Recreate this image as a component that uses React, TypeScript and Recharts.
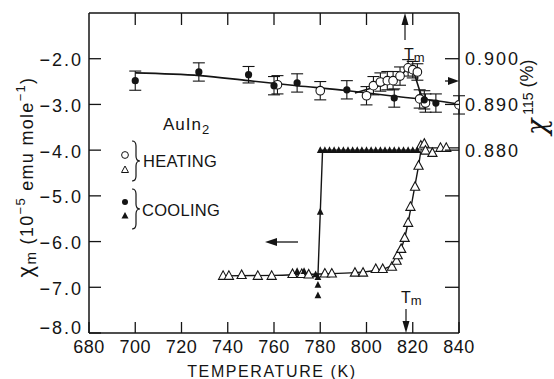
import React from 'react';
import {
  ComposedChart, XAxis, YAxis, Scatter, Line, ErrorBar,
} from 'recharts';

// temperature axis
const T_TICKS = [680, 700, 720, 740, 760, 780, 800, 820, 840];
const T_TOP_TICKS = [700, 720, 740, 760, 780, 800, 820];
// left axis: chi_m (10^-5 emu/mole)
const CHI_TICKS = [-8, -7, -6, -5, -4, -3, -2];
// right axis: Knight shift chi^115 (%)
const K_TICKS = [0.85, 0.86, 0.87, 0.88, 0.89, 0.9];
const K_LABELED = [0.88, 0.89, 0.9];

// chi^115, cooling (filled circles)
const coolCircT = [700, 727.5, 749, 760, 770, 791.5, 812, 825, 830];
const coolCircK = [0.8952, 0.8971, 0.8965, 0.8941, 0.8947, 0.8932, 0.8914, 0.891, 0.8903];
const coolCircErr = [0.0021, 0.002, 0.0018, 0.002, 0.002, 0.002, 0.002, 0.002, 0.002];

// chi^115, heating (open circles)
const heatCircT = [761.5, 780, 800, 803, 806, 809, 811.5, 814.5, 818, 820, 822, 823, 825.5, 840];
const heatCircK = [0.8943, 0.893, 0.8919, 0.8941, 0.8949, 0.8952, 0.8952, 0.8962, 0.898, 0.8976, 0.8971, 0.8912, 0.8903, 0.8899];
const heatCircErr = [0.002, 0.002, 0.002, 0.002, 0.002, 0.002, 0.002, 0.002, 0.0018, 0.0018, 0.0018, 0.002, 0.002, 0.002];

// drawn curves through the chi^115 data
const baseCurveT = [700, 728, 749, 770, 792, 812, 830, 840];
const baseCurveK = [0.8969, 0.8963, 0.8952, 0.8941, 0.893, 0.8918, 0.8908, 0.8901];
const bumpCurveT = [795, 803, 810, 815, 818, 819.5, 825, 830];
const bumpCurveK = [0.8925, 0.8937, 0.8948, 0.8962, 0.898, 0.8977, 0.8911, 0.8908];

// chi_m, heating (open triangles)
const heatTriT = [738, 740.5, 746, 753, 759, 768, 772, 775, 782, 785, 795, 798.5, 804, 807, 811, 813, 813.5, 815, 816.5, 818, 819, 821, 822.5, 823.5, 825, 825.5, 828.5, 832, 834.5];
const heatTriM = [-6.75, -6.75, -6.73, -6.75, -6.75, -6.71, -6.71, -6.72, -6.7, -6.7, -6.68, -6.68, -6.6, -6.6, -6.55, -6.42, -6.3, -6.16, -5.92, -5.59, -5.24, -4.8, -4.34, -3.9, -3.86, -4.01, -4.06, -3.95, -3.95];
const heatCurveT = [738, 760, 780, 795, 805, 810, 812.5, 814.5, 816.5, 818.5, 820.5, 822.5, 824, 830, 840];
const heatCurveM = [-6.75, -6.74, -6.71, -6.68, -6.62, -6.55, -6.45, -6.22, -5.92, -5.45, -4.9, -4.35, -3.95, -3.95, -3.95];

// chi_m, cooling (filled triangles)
const coolTriT = [770, 773, 778, 779, 779, 779, 780, 780, 782, 784, 786, 788, 790, 792, 794, 796, 798, 800, 802, 804, 806, 808, 810, 812, 814, 816, 818, 820, 822];
const coolTriM = [-6.65, -6.65, -6.72, -6.78, -6.95, -7.18, -5.35, -4, -4, -4, -4, -4, -4, -4, -4, -4, -4, -4, -4, -4, -4, -4, -4, -4, -4, -4, -4, -4, -4];
const coolCurveT = [779, 781, 822];
const coolCurveM = [-6.75, -4, -4];

const zip = (xs: number[], ys: number[], es?: number[]) =>
  xs.map((x, i) => ({ x, y: ys[i], err: es ? es[i] : 0 }));

const INK = '#141414';
const FONT = '"Liberation Sans", Arial, sans-serif';

const fmtChi = (v: number) => (v < 0 ? '\u2212' : '') + Math.abs(v).toFixed(1);

// custom ticks: labels outside, tick marks pointing into the plot
const BottomTick = ({ x, y, payload }: any) => (
  <g>
    <line x1={x} x2={x} y1={y - 7} y2={y - 18} stroke={INK} strokeWidth={1.3} />
    <text x={x} y={y} dy="0.71em" textAnchor="middle" fontSize={18} letterSpacing={0.5} fontFamily={FONT} fill={INK}>
      {payload.value}
    </text>
  </g>
);

const TopTick = ({ x, y }: any) => (
  <line x1={x} x2={x} y1={y} y2={y + 12} stroke={INK} strokeWidth={1.3} />
);

const LeftTick = ({ x, y, payload }: any) => (
  <g>
    <line x1={x + 6} x2={x + 18} y1={y} y2={y} stroke={INK} strokeWidth={1.3} />
    <text x={x} y={payload.value === -8 ? y - 5 : y + 1} dy="0.36em" textAnchor="end" fontSize={18}
      letterSpacing={2} fontFamily={FONT} fill={INK}>
      {fmtChi(payload.value)}
    </text>
  </g>
);

const RightTick = ({ x, y, payload }: any) => {
  const labeled = K_LABELED.some((v) => Math.abs(v - payload.value) < 1e-6);
  return (
    <g>
      <line x1={x - 6} x2={x - 20} y1={y} y2={y} stroke={INK} strokeWidth={1.3} />
      {labeled && (
        <text x={x} y={y} dy="0.36em" textAnchor="start" fontSize={18} letterSpacing={2} fontFamily={FONT} fill={INK}>
          {payload.value.toFixed(3)}
        </text>
      )}
    </g>
  );
};

const OpenCircle = ({ cx, cy }: any) => (
  <circle cx={cx} cy={cy} r={4.3} fill="#fff" stroke={INK} strokeWidth={1.1} />
);
const FilledCircle = ({ cx, cy }: any) => <circle cx={cx} cy={cy} r={3.6} fill={INK} />;
const OpenTriangle = ({ cx, cy }: any) => (
  <path d={`M${cx},${cy - 5} L${cx - 4.6},${cy + 3.5} L${cx + 4.6},${cy + 3.5} Z`} fill="#fff" stroke={INK} strokeWidth={1.1} />
);
const FilledTriangle = ({ cx, cy }: any) => (
  <path d={`M${cx},${cy - 4} L${cx - 3.4},${cy + 2.8} L${cx + 3.4},${cy + 2.8} Z`} fill={INK} />
);

const brace = (x: number, y0: number, y1: number) => {
  const m = (y0 + y1) / 2;
  return `M${x},${y0} Q${x + 4},${y0} ${x + 4},${y0 + 5} L${x + 4},${m - 5} Q${x + 4},${m} ${x + 8},${m} Q${x + 4},${m} ${x + 4},${m + 5} L${x + 4},${y1 - 5} Q${x + 4},${y1} ${x},${y1}`;
};

function Annotations() {
  const t = { fontFamily: FONT, fill: INK };
  return (
    <svg width={554} height={379} style={{ position: 'absolute', left: 0, top: 0, pointerEvents: 'none' }}>
      {/* sample name */}
      <text x={163} y={130} fontSize={17} letterSpacing={1} {...t}>
        AuIn<tspan fontSize={13} dy={4}>2</tspan>
      </text>
      {/* legend */}
      <circle cx={125} cy={155} r={3.4} fill="#fff" stroke={INK} strokeWidth={1} />
      <path d="M125,166 L121.5,172.5 L128.5,172.5 Z" fill="#fff" stroke={INK} strokeWidth={1} />
      <path d={brace(132, 141, 181)} fill="none" stroke={INK} strokeWidth={1.2} />
      <text x={143} y={167} fontSize={16.5} letterSpacing={0.3} {...t}>HEATING</text>
      <circle cx={125} cy={202} r={3} fill={INK} />
      <path d="M125,212 L121.5,218.5 L128.5,218.5 Z" fill={INK} />
      <path d={brace(132, 189, 229)} fill="none" stroke={INK} strokeWidth={1.2} />
      <text x={142} y={216} fontSize={16.5} letterSpacing={0.3} {...t}>COOLING</text>
      {/* axis arrows */}
      <line x1={274} x2={298} y1={242} y2={242} stroke={INK} strokeWidth={1.3} />
      <path d="M265,242 L277,238 L277,246 Z" fill={INK} />
      <line x1={445} x2={451} y1={81} y2={81} stroke={INK} strokeWidth={1.3} />
      <path d="M459,81 L448,77 L448,85 Z" fill={INK} />
      {/* Tm markers */}
      <line x1={405} x2={405} y1={40} y2={22} stroke={INK} strokeWidth={1.2} />
      <path d="M405,13 L401.5,25 L408.5,25 Z" fill={INK} />
      <text x={404} y={60} fontSize={16} {...t}>
        T<tspan fontSize={13} dy={2} fill={INK}>m</tspan>
      </text>
      <text x={401} y={303} fontSize={16} {...t}>
        T<tspan fontSize={13} dy={2} fill={INK}>m</tspan>
      </text>
      <line x1={406} x2={406} y1={309} y2={322} stroke={INK} strokeWidth={1.2} />
      <path d="M406,333 L402.5,321 L409.5,321 Z" fill={INK} />
      {/* axis titles */}
      <text x={272} y={377} fontSize={16} letterSpacing={1.6} textAnchor="middle" {...t}>
        TEMPERATURE (K)
      </text>
      <text transform="translate(33,177) rotate(-90)" textAnchor="middle" fontSize={18} letterSpacing={1.3} {...t}>
        <tspan fontSize={22}>χ</tspan>
        <tspan fontSize={15} dy={3}>m</tspan>
        <tspan dy={-3}>  (10</tspan>
        <tspan fontSize={13} dy={-8}>−5</tspan>
        <tspan dy={8}> emu mole</tspan>
        <tspan fontSize={13} dy={-8}>−1</tspan>
        <tspan dy={8}>)</tspan>
      </text>
      <text transform="translate(546,135) rotate(-90)" textAnchor="start" fontSize={16} {...t}>
        <tspan fontSize={27} fontStyle="italic" fontFamily='"DejaVu Serif", serif'>χ</tspan>
        <tspan fontSize={14} dy={-13}> 115</tspan>
        <tspan fontSize={18}>   (%)</tspan>
      </text>
    </svg>
  );
}

export default function App() {
  const axisLine = { stroke: INK, strokeWidth: 1.5 };
  return (
    <div style={{ position: 'absolute', left: 0, top: 0, width: 554, height: 379, background: '#fff' }}>
      <ComposedChart width={554} height={379} margin={{ top: 12, right: 94, bottom: 45, left: 88 }}>
        <XAxis xAxisId="b" type="number" dataKey="x" domain={[680, 840]} ticks={T_TICKS}
          allowDataOverflow height={1} tickSize={0} tickMargin={7} axisLine={axisLine} tick={<BottomTick />} />
        <XAxis xAxisId="t" orientation="top" type="number" dataKey="x" domain={[680, 840]} ticks={T_TOP_TICKS}
          allowDataOverflow height={1} tickSize={0} tickMargin={0} axisLine={axisLine} tick={<TopTick />} />
        <YAxis yAxisId="l" type="number" dataKey="y" domain={[-8, -1]} ticks={CHI_TICKS}
          allowDataOverflow width={1} tickSize={0} tickMargin={6} axisLine={axisLine} tick={<LeftTick />} />
        <YAxis yAxisId="r" orientation="right" type="number" dataKey="y" domain={[0.84, 0.91]} ticks={K_TICKS}
          allowDataOverflow width={1} tickSize={0} tickMargin={6} axisLine={axisLine} tick={<RightTick />} />

        <Line xAxisId="b" yAxisId="r" data={zip(baseCurveT, baseCurveK)} dataKey="y" type="monotone"
          stroke={INK} strokeWidth={1.6} dot={false} isAnimationActive={false} />
        <Line xAxisId="b" yAxisId="r" data={zip(bumpCurveT, bumpCurveK)} dataKey="y" type="monotone"
          stroke={INK} strokeWidth={1.6} dot={false} isAnimationActive={false} />
        <Line xAxisId="b" yAxisId="l" data={zip(heatCurveT, heatCurveM)} dataKey="y" type="monotone"
          stroke={INK} strokeWidth={1.4} dot={false} isAnimationActive={false} />
        <Line xAxisId="b" yAxisId="l" data={zip(coolCurveT, coolCurveM)} dataKey="y" type="linear"
          stroke={INK} strokeWidth={1.4} dot={false} isAnimationActive={false} />

        <Scatter xAxisId="b" yAxisId="r" data={zip(heatCircT, heatCircK, heatCircErr)} shape={<OpenCircle />} isAnimationActive={false}>
          <ErrorBar dataKey="err" direction="y" width={6} stroke={INK} strokeWidth={1.1} />
        </Scatter>
        <Scatter xAxisId="b" yAxisId="r" data={zip(coolCircT, coolCircK, coolCircErr)} shape={<FilledCircle />} isAnimationActive={false}>
          <ErrorBar dataKey="err" direction="y" width={6} stroke={INK} strokeWidth={1.1} />
        </Scatter>
        <Scatter xAxisId="b" yAxisId="l" data={zip(heatTriT, heatTriM)} shape={<OpenTriangle />} isAnimationActive={false} />
        <Scatter xAxisId="b" yAxisId="l" data={zip(coolTriT, coolTriM)} shape={<FilledTriangle />} isAnimationActive={false} />
      </ComposedChart>
      <Annotations />
    </div>
  );
}
